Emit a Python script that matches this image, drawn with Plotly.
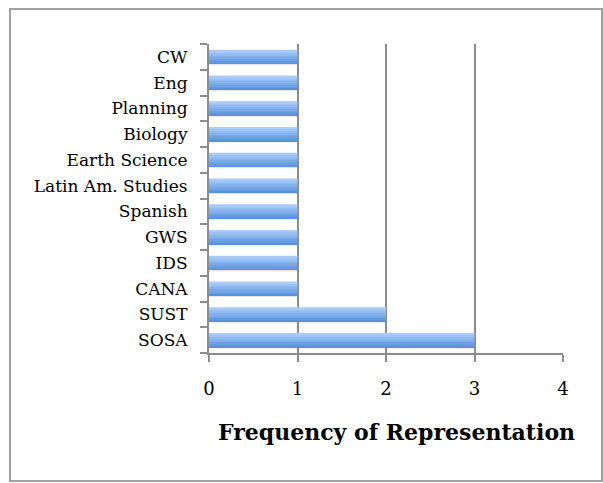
import plotly.graph_objects as go

categories = ["SOSA", "SUST", "CANA", "IDS", "GWS", "Spanish", "Latin Am. Studies",
              "Earth Science", "Biology", "Planning", "Eng", "CW"]
frequency = [3, 2, 1, 1, 1, 1, 1, 1, 1, 1, 1, 1]
x_ticks = [0, 1, 2, 3, 4]

fig = go.Figure()

# shadow
fig.add_trace(go.Bar(y=categories, x=frequency, orientation="h",
                     width=0.56, offset=-0.33,
                     marker=dict(color="rgba(0,0,0,0.10)", line=dict(width=0)),
                     hoverinfo="skip", showlegend=False))

# gradient bars via stacked slices
N = 8
total_w = 0.54
w = total_w / N
top = (169, 203, 249)
bot = (88, 146, 220)
for k in range(N):
    t = k / (N - 1)  # 0 bottom, 1 top
    c = tuple(int(bot[i] + (top[i] - bot[i]) * t) for i in range(3))
    fig.add_trace(go.Bar(y=categories, x=frequency, orientation="h",
                         width=w + 0.004, offset=-total_w / 2 + k * w,
                         marker=dict(color="rgb(%d,%d,%d)" % c, line=dict(width=0)),
                         hoverinfo="skip", showlegend=False))

L, R, T, B = 209, 40, 44, 130
W, H = 603, 483
pw, ph = W - L - R, H - T - B

def px(x):
    return (x - L) / pw

def py(y):
    return (H - B - y) / ph

FONT = "DejaVu Serif, Liberation Serif, serif"

fig.update_layout(
    width=W, height=H,
    margin=dict(l=L, r=R, t=T, b=B),
    barmode="overlay",
    paper_bgcolor="white", plot_bgcolor="white",
    font=dict(family=FONT, color="black"),
    xaxis=dict(range=[0, 4], tickvals=x_ticks, ticks="outside", ticklen=7,
               tickcolor="#8c8c8c", tickwidth=2,
               showgrid=True, gridcolor="#8c8c8c", gridwidth=2,
               showline=True, linecolor="#8c8c8c", linewidth=2,
               zeroline=False, tickfont=dict(size=18), ticklabelstandoff=11),
    yaxis=dict(categoryorder="array", categoryarray=categories,
               ticks="outside", tickson="boundaries", ticklen=7,
               tickcolor="#8c8c8c", tickwidth=2,
               showline=True, linecolor="#8c8c8c", linewidth=2,
               showgrid=False, tickfont=dict(size=17), ticklabelstandoff=16,
               range=[-0.5, 11.5]),
    shapes=[dict(type="rect", xref="paper", yref="paper",
                 x0=px(10), x1=px(602), y0=py(481), y1=py(9),
                 line=dict(color="#a0a0a0", width=2), layer="below")],
    annotations=[dict(text="<b>Frequency of Representation</b>", xref="paper", yref="paper",
                      x=px(396), y=py(432), xanchor="center", yanchor="middle",
                      showarrow=False,
                      font=dict(size=22, family=FONT))],
)

fig.write_html("out.html")
